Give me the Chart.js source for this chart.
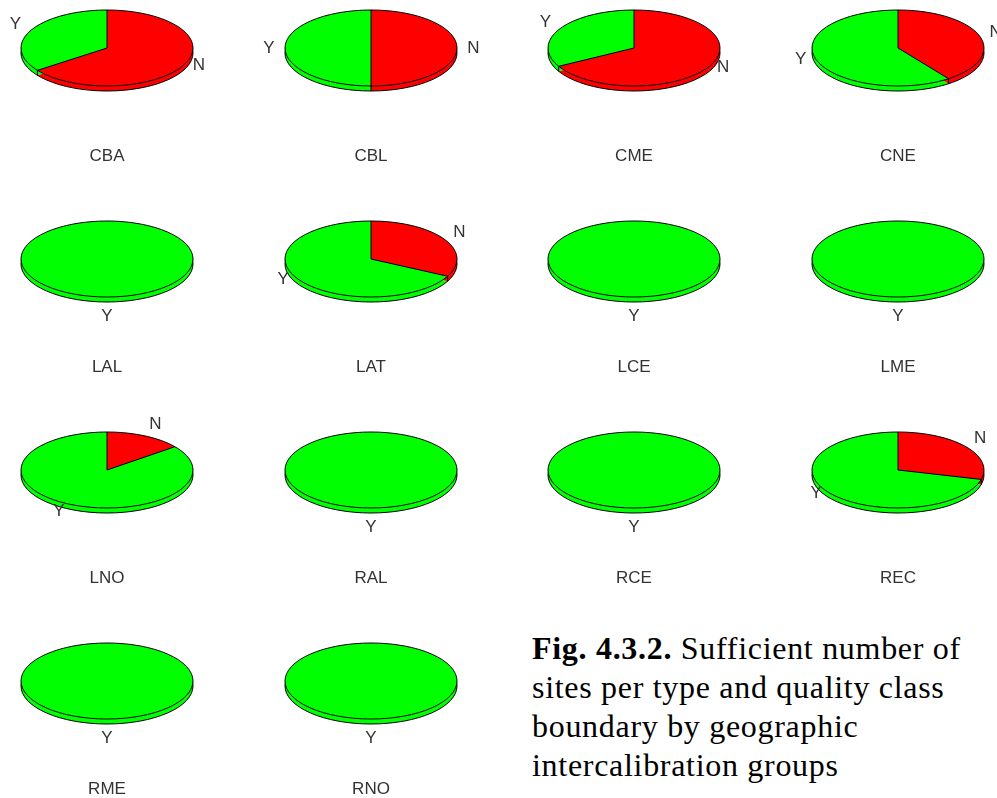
<!DOCTYPE html>
<html>
<head>
<meta charset="utf-8">
<script src="https://cdn.jsdelivr.net/npm/chart.js@4.4.0/dist/chart.umd.min.js"></script>
<style>
  html, body { margin: 0; padding: 0; background: #fff; }
  body { width: 997px; height: 798px; position: relative; overflow: hidden; }
  canvas { position: absolute; }
  #caption {
    position: absolute; left: 532px; top: 629px;
    font-family: "Liberation Serif", "Times New Roman", serif;
    font-size: 32px; line-height: 39px; letter-spacing: 0.7px;
    color: #000; white-space: nowrap;
  }
</style>
</head>
<body>
<div id="caption"><b>Fig. 4.3.2.</b> Sufficient number of<br>sites per type and quality class<br>boundary by geographic<br>intercalibration groups</div>
<script>
// intercalibration groups, in grid order (4 per row)
const groups = ["CBA", "CBL", "CME", "CNE", "LAL", "LAT", "LCE", "LME", "LNO", "RAL", "RCE", "REC", "RME", "RNO"];
// share of sites (%) : N = not sufficient, Y = sufficient
const noShare  = [65, 50, 67, 40, 0, 32.5, 0, 0, 14.5, 0, 0, 29, 0, 0];
const yesShare = [35, 50, 33, 60, 100, 67.5, 100, 100, 85.5, 100, 100, 71, 100, 100];
const sliceLabels = ["N", "Y"];
const sliceColors = ["#ff0000", "#00ff00"];

// layout of one pie cell
const CW = 264, CH = 200;
const CX = 132, CY = 60;   // pie centre inside the canvas
const RX = 86, RY = 38;    // ellipse radii
const THICK = 5;           // 3d rim height

function setEllipse(ctx, px, py, dy) {
  ctx.translate(CX, CY + dy);
  ctx.scale(1, RY / RX);
  ctx.translate(-px, -py);
}

function boundaries(arcs) {
  // radial edges between non-empty slices
  const live = arcs.filter(a => a.circumference > 0.0001);
  if (live.length < 2) return [];
  return live.map(a => a.startAngle);
}

const pie3d = {
  id: "pie3d",
  beforeDatasetsDraw(chart) {
    const ctx = chart.ctx;
    const arcs = chart.getDatasetMeta(0).data;
    const px = arcs[0].x, py = arcs[0].y;

    // rim (lower layer)
    ctx.save();
    setEllipse(ctx, px, py, THICK);
    arcs.forEach(a => a.draw(ctx));
    ctx.restore();

    ctx.save();
    ctx.strokeStyle = "#000";
    ctx.lineWidth = 1;
    ctx.beginPath();
    ctx.ellipse(CX, CY + THICK, RX, RY, 0, 0, Math.PI * 2);
    ctx.stroke();
    boundaries(arcs).forEach(t => {
      if (Math.sin(t) > 0) {
        const x = CX + RX * Math.cos(t), y = CY + RY * Math.sin(t);
        ctx.beginPath();
        ctx.moveTo(x, y);
        ctx.lineTo(x, y + THICK);
        ctx.stroke();
      }
    });
    ctx.restore();

    // top face drawn by chart.js in squashed space
    ctx.save();
    setEllipse(ctx, px, py, 0);
  },
  afterDatasetsDraw(chart) {
    const ctx = chart.ctx;
    ctx.restore();
    const arcs = chart.getDatasetMeta(0).data;

    ctx.save();
    ctx.strokeStyle = "#000";
    ctx.lineWidth = 1;
    ctx.beginPath();
    ctx.ellipse(CX, CY, RX, RY, 0, 0, Math.PI * 2);
    ctx.stroke();
    boundaries(arcs).forEach(t => {
      ctx.beginPath();
      ctx.moveTo(CX, CY);
      ctx.lineTo(CX + RX * Math.cos(t), CY + RY * Math.sin(t));
      ctx.stroke();
    });

    // slice labels
    ctx.font = '17px "Liberation Sans", Arial, sans-serif';
    ctx.fillStyle = "#333";
    ctx.textBaseline = "middle";
    arcs.forEach((a, i) => {
      if (a.circumference < 0.0001) return;
      const m = (a.startAngle + a.endAngle) / 2;
      const c = Math.cos(m), s = Math.sin(m);
      const x = CX + RX * 1.12 * c;
      const ky = s < 0 ? 1.35 : 1 + 0.5 * Math.pow(s, 8);
      const y = CY + RY * ky * s;
      ctx.textAlign = Math.abs(c) < 0.05 ? "center" : (c < 0 ? "right" : "left");
      ctx.fillText(chart.data.labels[i], x, y);
    });

    // group name
    ctx.textAlign = "center";
    ctx.fillText(chart.options.plugins.groupName, CX, CY + 108);
    ctx.restore();
  }
};

groups.forEach((g, i) => {
  const col = i % 4, row = Math.floor(i / 4);
  const cx = 107 + 263.7 * col;
  const cy = 48 + 211 * row;
  const canvas = document.createElement("canvas");
  canvas.width = CW;
  canvas.height = CH;
  canvas.style.width = CW + "px";
  canvas.style.height = CH + "px";
  canvas.style.left = (cx - CX) + "px";
  canvas.style.top = (cy - CY) + "px";
  document.body.appendChild(canvas);

  new Chart(canvas, {
    type: "pie",
    data: {
      labels: sliceLabels,
      datasets: [{
        data: [noShare[i], yesShare[i]],
        backgroundColor: sliceColors,
        borderWidth: 0,
        radius: RX
      }]
    },
    options: {
      responsive: false,
      animation: false,
      events: [],
      layout: { padding: 0 },
      plugins: {
        legend: { display: false },
        tooltip: { enabled: false },
        groupName: g
      }
    },
    plugins: [pie3d]
  });
});
</script>
</body>
</html>
